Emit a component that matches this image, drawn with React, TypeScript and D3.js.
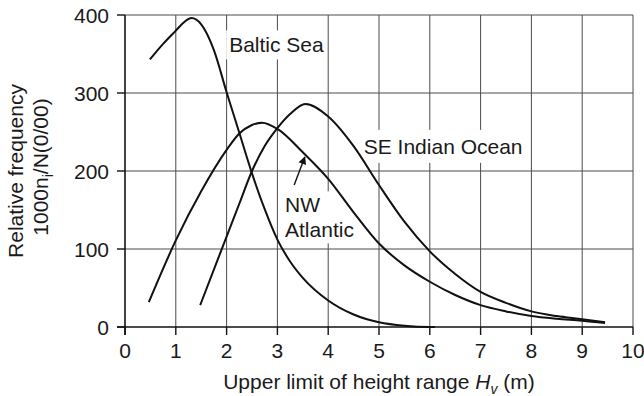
import * as d3 from "d3";
import { useEffect, useRef } from "react";

// wave height (m) / relative frequency
const balticX = [0.49, 0.75, 1, 1.15, 1.31, 1.5, 1.75, 2, 2.25, 2.5, 2.75, 3, 3.25, 3.5, 4, 4.5, 5, 5.5, 6, 6.1];
const balticY = [343, 363, 380, 390, 396, 388, 355, 301, 249, 197, 151, 112, 84, 63, 34, 16, 6, 1.5, 0, 0];

const atlanticX = [0.47, 1, 1.5, 2, 2.25, 2.5, 2.7, 3, 3.5, 4, 4.5, 5, 5.5, 6, 6.5, 7, 7.5, 8, 8.5, 9, 9.45];
const atlanticY = [32, 111, 174, 227, 248, 259, 262, 254, 224, 190, 147, 107, 79, 58, 41, 28, 20, 14, 10.5, 8, 5];

const indianX = [1.48, 2, 2.25, 2.5, 2.75, 3, 3.25, 3.55, 4, 4.5, 5, 5.5, 6, 6.5, 7, 7.5, 8, 8.5, 9, 9.45];
const indianY = [28, 116, 158, 200, 232, 255, 273, 286, 270, 232, 182, 135, 97, 68, 45, 31, 20, 14, 10, 6];

const xTicks = [0, 1, 2, 3, 4, 5, 6, 7, 8, 9, 10];
const yTicks = [0, 100, 200, 300, 400];

const FONT = "Liberation Sans, Arial, Helvetica, sans-serif";

const App = () => {
  const svgRef = useRef<SVGSVGElement>(null);

  useEffect(() => {
    const svg = d3.select(svgRef.current);
    svg.selectAll("*").remove();

    const width = 644;
    const height = 396;
    const margin = { top: 15, right: 11, bottom: 69, left: 125 };

    const x = d3.scaleLinear().domain([0, 10]).range([margin.left, width - margin.right]);
    const y = d3.scaleLinear().domain([0, 400]).range([height - margin.bottom, margin.top]);

    const g = svg.append("g").attr("font-family", FONT).attr("fill", "#1a1a1a");

    // grid + frame
    g.append("g")
      .selectAll("line")
      .data(xTicks.slice(1))
      .join("line")
      .attr("x1", (d) => x(d))
      .attr("x2", (d) => x(d))
      .attr("y1", y(0))
      .attr("y2", y(400))
      .attr("stroke", "#4a4a4a")
      .attr("stroke-width", 1);
    g.append("g")
      .selectAll("line")
      .data(yTicks.slice(1))
      .join("line")
      .attr("x1", x(0))
      .attr("x2", x(10))
      .attr("y1", (d) => y(d))
      .attr("y2", (d) => y(d))
      .attr("stroke", "#4a4a4a")
      .attr("stroke-width", 1);

    // labels with white boxes over the grid
    const labels = [
      { lines: ["Baltic Sea"], x: 2.05, y: 352, padX: 3, padY: 6 },
      { lines: ["SE Indian Ocean"], x: 4.7, y: 222, padX: 3, padY: 8 },
      { lines: ["NW", "Atlantic"], x: 3.15, y: 147, padX: 3, padY: 5 },
    ];
    labels.forEach((l) => {
      const grp = g.append("g");
      const rect = grp.append("rect").attr("fill", "white");
      const t = grp
        .append("text")
        .attr("x", x(l.x))
        .attr("y", y(l.y))
        .attr("font-size", 21);
      l.lines.forEach((s, i) => {
        t.append("tspan").attr("x", x(l.x)).attr("dy", i === 0 ? 0 : 25).text(s);
      });
      const b = (t.node() as SVGTextElement).getBBox();
      rect
        .attr("x", b.x - l.padX)
        .attr("y", b.y - l.padY + 3)
        .attr("width", b.width + 2 * l.padX)
        .attr("height", b.height + 2 * l.padY - 6);
    });

    // arrow to the NW Atlantic curve
    const defs = svg.append("defs");
    defs
      .append("marker")
      .attr("id", "arr")
      .attr("viewBox", "0 0 10 10")
      .attr("refX", 9)
      .attr("refY", 5)
      .attr("markerWidth", 11)
      .attr("markerHeight", 8)
      .attr("markerUnits", "userSpaceOnUse")
      .attr("orient", "auto")
      .append("path")
      .attr("d", "M0,0 L10,5 L0,10 Z")
      .attr("fill", "#111");
    g.append("line")
      .attr("x1", x(3.33))
      .attr("y1", y(182))
      .attr("x2", x(3.54))
      .attr("y2", y(218))
      .attr("stroke", "#111")
      .attr("stroke-width", 1.4)
      .attr("marker-end", "url(#arr)");

    // curves
    const line = d3
      .line<number>()
      .x((d) => x(d))
      .curve(d3.curveMonotoneX);
    const series = [
      { xs: balticX, ys: balticY },
      { xs: atlanticX, ys: atlanticY },
      { xs: indianX, ys: indianY },
    ];
    series.forEach((s) => {
      g.append("path")
        .attr("d", line.y((_, i) => y(s.ys[i]))(s.xs))
        .attr("fill", "none")
        .attr("stroke", "#111")
        .attr("stroke-width", 2);
    });

    // axes
    g.append("line")
      .attr("x1", x(0))
      .attr("x2", x(0))
      .attr("y1", y(0) + 8)
      .attr("y2", y(400))
      .attr("stroke", "#111")
      .attr("stroke-width", 1.6);
    g.append("line")
      .attr("x1", x(0) - 8)
      .attr("x2", x(10))
      .attr("y1", y(0))
      .attr("y2", y(0))
      .attr("stroke", "#111")
      .attr("stroke-width", 1.6);

    g.append("g")
      .selectAll("line")
      .data(yTicks)
      .join("line")
      .attr("x1", x(0) - 8)
      .attr("x2", x(0))
      .attr("y1", (d) => y(d))
      .attr("y2", (d) => y(d))
      .attr("stroke", "#111")
      .attr("stroke-width", 1.4);
    g.append("g")
      .selectAll("line")
      .data(xTicks)
      .join("line")
      .attr("x1", (d) => x(d))
      .attr("x2", (d) => x(d))
      .attr("y1", y(0))
      .attr("y2", y(0) + 8)
      .attr("stroke", "#111")
      .attr("stroke-width", 1.4);

    g.append("g")
      .selectAll("text")
      .data(yTicks)
      .join("text")
      .attr("x", x(0) - 16)
      .attr("y", (d) => y(d) + 7.5)
      .attr("text-anchor", "end")
      .attr("font-size", 21)
      .text((d) => d);
    g.append("g")
      .selectAll("text")
      .data(xTicks)
      .join("text")
      .attr("x", (d) => x(d))
      .attr("y", y(0) + 31)
      .attr("text-anchor", "middle")
      .attr("font-size", 21)
      .text((d) => d);

    // axis titles
    const xt = g
      .append("text")
      .attr("x", (x(0) + x(10)) / 2)
      .attr("y", 389)
      .attr("text-anchor", "middle")
      .attr("font-size", 21);
    xt.append("tspan").text("Upper limit of height range ");
    xt.append("tspan").attr("font-style", "italic").text("H");
    xt.append("tspan").attr("font-style", "italic").attr("font-size", 14).attr("dy", 5).text("v");
    xt.append("tspan").attr("dy", -5).text(" (m)");

    const cy = (y(0) + y(400)) / 2;
    g.append("text")
      .attr("transform", `translate(23,${cy}) rotate(-90)`)
      .attr("text-anchor", "middle")
      .attr("font-size", 21)
      .text("Relative frequency");
    const yt2 = g
      .append("text")
      .attr("transform", `translate(48,${cy - 4}) rotate(-90)`)
      .attr("text-anchor", "middle")
      .attr("font-size", 21);
    yt2.append("tspan").text("1000n");
    yt2.append("tspan").attr("font-size", 14).attr("dy", 5).text("i");
    yt2.append("tspan").attr("dy", -5).text("/N(0/00)");
  }, []);

  return (
    <svg
      ref={svgRef}
      width={644}
      height={396}
      style={{ position: "absolute", left: 0, top: 0, background: "white" }}
    ></svg>
  );
};

export default App;
